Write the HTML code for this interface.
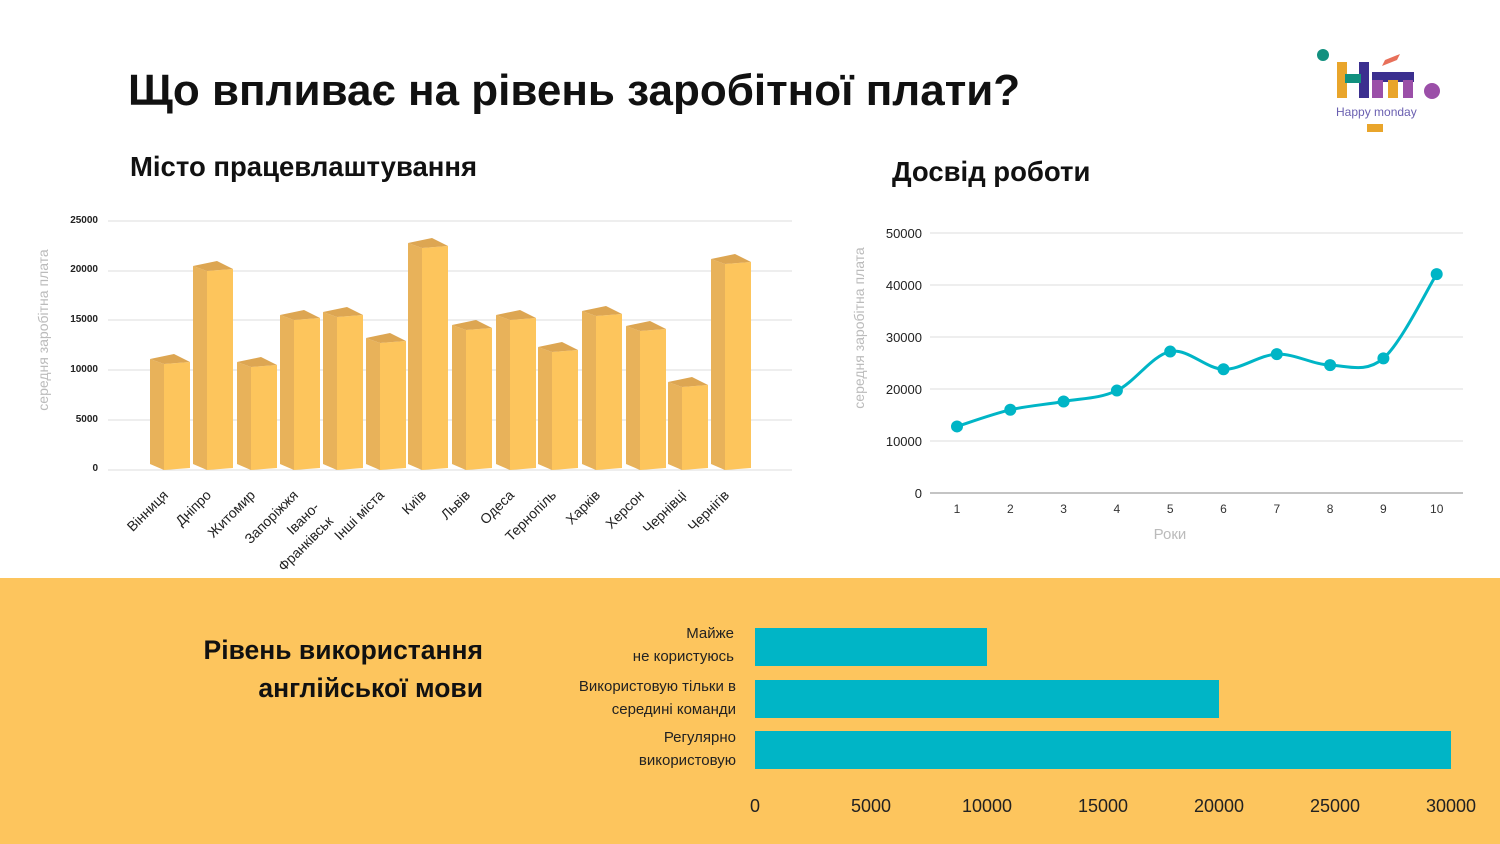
<!DOCTYPE html>
<html><head><meta charset="utf-8"><style>
body{margin:0;width:1500px;height:844px;overflow:hidden;background:#fff;font-family:"Liberation Sans","DejaVu Sans",sans-serif}
svg{position:absolute;left:0;top:0}
</style></head><body>
<svg width="1500" height="844" viewBox="0 0 1500 844" font-family="Liberation Sans, DejaVu Sans, sans-serif">
<rect x="0" y="578" width="1500" height="266" fill="#fdc55d"/>
<text x="128" y="105" font-size="44" font-weight="bold" fill="#111">Що впливає на рівень заробітної плати?</text>
<text x="130" y="176" font-size="27.5" font-weight="bold" fill="#111">Місто працевлаштування</text>
<text x="892" y="181" font-size="27.5" font-weight="bold" fill="#111">Досвід роботи</text>
<!-- logo -->
<circle cx="1323" cy="55" r="6" fill="#12907f"/>
<circle cx="1432" cy="91" r="8" fill="#9b4fa8"/>
<rect x="1337" y="62" width="10" height="36" fill="#e9a52b"/>
<rect x="1359" y="62" width="10" height="36" fill="#3b2f8f"/>
<rect x="1345" y="74" width="16" height="9" fill="#12907f"/>
<rect x="1372" y="72" width="42" height="10" fill="#3b2f8f"/>
<rect x="1372" y="80" width="11" height="18" fill="#9b4fa8"/>
<rect x="1388" y="80" width="10" height="18" fill="#e9a52b"/>
<rect x="1403" y="80" width="10" height="18" fill="#9b4fa8"/>
<polygon points="1385,60 1400,54 1397,60 1382,66" fill="#e8705a"/>
<text x="1336" y="116" font-size="12" fill="#6a5fb0">Happy monday</text>
<rect x="1367" y="124" width="16" height="8" fill="#e9a52b"/>
<!-- bar chart grid -->
<g stroke="#ddd" stroke-width="1">
<line x1="108" y1="221" x2="792" y2="221"/><line x1="108" y1="271" x2="792" y2="271"/>
<line x1="108" y1="320" x2="792" y2="320"/><line x1="108" y1="370" x2="792" y2="370"/>
<line x1="108" y1="420" x2="792" y2="420"/><line x1="108" y1="470" x2="792" y2="470"/>
</g>
<g font-size="10" font-weight="bold" fill="#222" text-anchor="end">
<text x="98" y="223">25000</text><text x="98" y="272">20000</text><text x="98" y="322">15000</text>
<text x="98" y="372">10000</text><text x="98" y="422">5000</text><text x="98" y="471">0</text>
</g>
<text transform="translate(48,330) rotate(-90)" font-size="14" fill="#bbb" text-anchor="middle">середня заробітна плата</text>
<g id="bars"></g>
<g id="blabels" font-size="14" fill="#222" text-anchor="end"></g>
<!-- line chart -->
<g stroke="#ddd" stroke-width="1">
<line x1="930" y1="233" x2="1463" y2="233"/><line x1="930" y1="285" x2="1463" y2="285"/>
<line x1="930" y1="337" x2="1463" y2="337"/><line x1="930" y1="389" x2="1463" y2="389"/>
<line x1="930" y1="441" x2="1463" y2="441"/>
</g>
<line x1="930" y1="493" x2="1463" y2="493" stroke="#888"/>
<g font-size="13" fill="#222" text-anchor="end">
<text x="922" y="238">50000</text><text x="922" y="290">40000</text><text x="922" y="342">30000</text>
<text x="922" y="394">20000</text><text x="922" y="446">10000</text><text x="922" y="498">0</text>
</g>
<text transform="translate(864,328) rotate(-90)" font-size="14" fill="#bbb" text-anchor="middle">середня заробітна плата</text>
<g font-size="12" fill="#333" text-anchor="middle" id="xl"></g>
<text x="1170" y="539" font-size="15" fill="#bbb" text-anchor="middle">Роки</text>
<path id="lp" fill="none" stroke="#00b5c6" stroke-width="3"/>
<g id="pts" fill="#00b5c6"></g>
<!-- bottom section -->
<text x="483" y="659" font-size="26.5" font-weight="bold" fill="#111" text-anchor="end">Рівень використання</text>
<text x="483" y="697" font-size="26.5" font-weight="bold" fill="#111" text-anchor="end">англійської мови</text>
<g font-size="15" fill="#222" text-anchor="end">
<text x="734" y="638">Майже</text><text x="734" y="661">не користуюсь</text>
<text x="736" y="691">Використовую тільки в</text><text x="736" y="714">середині команди</text>
<text x="736" y="742">Регулярно</text><text x="736" y="765">використовую</text>
</g>
<rect x="755" y="628" width="232" height="38" fill="#00b5c6"/>
<rect x="755" y="680" width="464" height="38" fill="#00b5c6"/>
<rect x="755" y="731" width="696" height="38" fill="#00b5c6"/>
<g font-size="18" fill="#222" text-anchor="middle">
<text x="755" y="812">0</text><text x="871" y="812">5000</text><text x="987" y="812">10000</text>
<text x="1103" y="812">15000</text><text x="1219" y="812">20000</text><text x="1335" y="812">25000</text><text x="1451" y="812">30000</text>
</g>
</svg>
<script>
const NS="http://www.w3.org/2000/svg";
function el(t,a,p){const e=document.createElementNS(NS,t);for(const k in a)e.setAttribute(k,a[k]);p.appendChild(e);return e}
const bars=[["Вінниця",150,364],["Дніпро",193,271],["Житомир",237,367],["Запоріжжя",280,320],["Івано-|Франківськ",323,317],["Інші міста",366,343],["Київ",408,248],["Львів",452,330],["Одеса",496,320],["Тернопіль",538,352],["Харків",582,316],["Херсон",626,331],["Чернівці",668,387],["Чернігів",711,264]];
const g=document.getElementById("bars"),lg=document.getElementById("blabels");
bars.forEach(([n,x,y])=>{
 const f=x+14,fw=26;
 el("polygon",{points:`${x},${y-5} ${f},${y} ${f},${470} ${x},${464}`,fill:"#e8b25a"},g);
 el("polygon",{points:`${f},${y} ${f+fw},${y-2} ${f+fw},${468} ${f},${470}`,fill:"#fdc55c"},g);
 el("polygon",{points:`${x},${y-5} ${x+24},${y-10} ${f+fw},${y-2} ${f},${y}`,fill:"#dda652"},g);
 const cx=f+fw/2-8;
 const parts=n.split("|");
 if(parts.length>1){
  let t=el("text",{transform:`translate(320,508) rotate(-45)`},lg);t.textContent=parts[0];
  t=el("text",{transform:`translate(334,522) rotate(-45)`},lg);t.textContent=parts[1];
 } else {const t=el("text",{transform:`translate(${cx},496) rotate(-45)`},lg);t.textContent=n;}
});
const xs=[],ys=[],vals=[12800,16000,17600,19700,27200,23800,26700,24600,25900,42100];
const xl=document.getElementById("xl"),pts=document.getElementById("pts");
vals.forEach((v,i)=>{const x=957+i*53.3,y=493-v*0.0052;xs.push(x);ys.push(y);
 el("circle",{cx:x,cy:y,r:6},pts);const t=el("text",{x:x,y:513},xl);t.textContent=i+1;});
let d=`M${xs[0]},${ys[0]}`;
for(let i=0;i<xs.length-1;i++){const p0=i?i-1:0,p3=Math.min(i+2,xs.length-1);
 const c1x=xs[i]+(xs[i+1]-xs[p0])/6,c1y=ys[i]+(ys[i+1]-ys[p0])/6,c2x=xs[i+1]-(xs[p3]-xs[i])/6,c2y=ys[i+1]-(ys[p3]-ys[i])/6;
 d+=` C${c1x},${c1y} ${c2x},${c2y} ${xs[i+1]},${ys[i+1]}`;}
document.getElementById("lp").setAttribute("d",d);
</script>
</body></html>
